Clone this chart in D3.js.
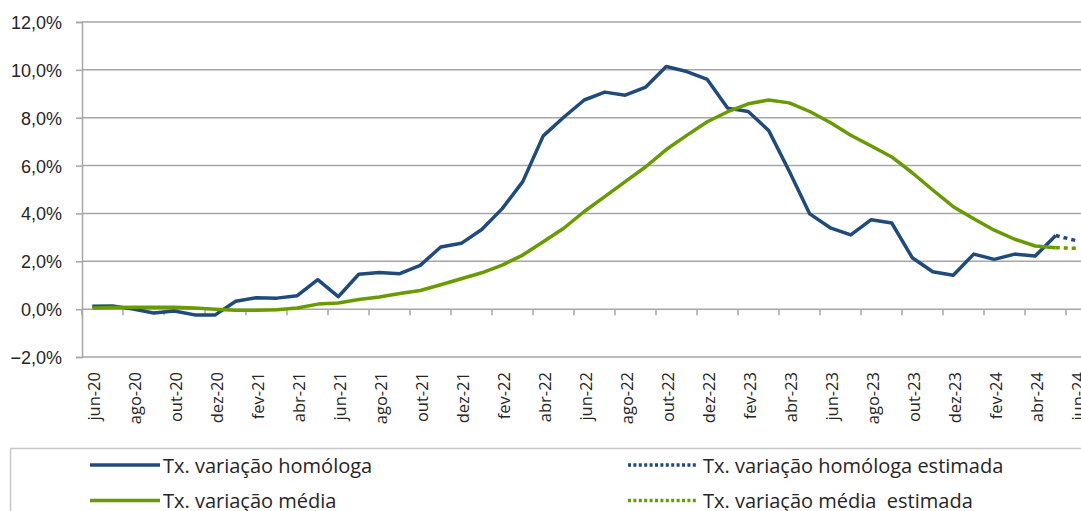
<!DOCTYPE html>
<html>
<head>
<meta charset="utf-8">
<script src="https://cdn.jsdelivr.net/npm/d3@7"></script>
<style>
  body { margin: 0; background: #fff; }
  svg { display: block; font-family: "Open Sans", sans-serif; }
  .grid line { stroke: #a6a6a6; stroke-width: 1.5; }
  .axis text { fill: #262626; }
</style>
</head>
<body>
<div id="chart"></div>
<script>
const monthNames = ['jan', 'fev', 'mar', 'abr', 'mai', 'jun', 'jul', 'ago', 'set', 'out', 'nov', 'dez']
const months = []
for (let y = 20; y <= 24; y++) {
  monthNames.forEach((m, i) => {
    if ((y === 20 && i < 5) || (y === 24 && i > 5)) return
    months.push(`${m}-${y}`)
  })
}

// Tx. variação homóloga (%), jun-20 .. mai-24
const homologa = [0.12, 0.13, 0.0, -0.16, -0.08, -0.24, -0.24, 0.33, 0.48, 0.46,
  0.56, 1.23, 0.52, 1.46, 1.53, 1.48, 1.83, 2.6, 2.75, 3.33,
  4.2, 5.33, 7.24, 8.02, 8.74, 9.07, 8.94, 9.28, 10.14, 9.93,
  9.6, 8.4, 8.26, 7.46, 5.76, 3.98, 3.4, 3.1, 3.74, 3.6,
  2.15, 1.56, 1.42, 2.3, 2.08, 2.3, 2.22, 3.08]
// estimated: mai-24 .. jun-24
const homologaEst = [3.08, 2.86]

// Tx. variação média (%)
const media = [0.05, 0.07, 0.08, 0.08, 0.08, 0.05, 0.0, -0.05, -0.05, -0.03,
  0.05, 0.21, 0.26, 0.4, 0.51, 0.65, 0.78, 1.02, 1.27, 1.52,
  1.84, 2.26, 2.82, 3.38, 4.08, 4.7, 5.33, 5.95, 6.67, 7.26,
  7.83, 8.25, 8.58, 8.74, 8.62, 8.26, 7.8, 7.27, 6.82, 6.36,
  5.7, 4.98, 4.28, 3.78, 3.3, 2.92, 2.64, 2.57]
const mediaEst = [2.57, 2.54]

const yTicks = [-2, 0, 2, 4, 6, 8, 10, 12]

const legendItems = [
  { label: 'Tx. variação homóloga', color: '#1f4b7c', dotted: false },
  { label: 'Tx. variação homóloga estimada', color: '#1f4b7c', dotted: true },
  { label: 'Tx. variação média', color: '#679b00', dotted: false },
  { label: 'Tx. variação média\u00a0 estimada', color: '#679b00', dotted: true }
]

const width = 1081, height = 511
const margin = { top: 22, left: 82 }
const bandW = 20.5
const plotBottom = 357

const svg = d3.select('#chart').append('svg')
  .attr('width', width).attr('height', height)

const x = d3.scaleBand().domain(months)
  .range([margin.left, margin.left + months.length * bandW])
const y = d3.scaleLinear().domain([-2, 12]).range([plotBottom, margin.top])
const cx = d => x(d) + x.bandwidth() / 2

// gridlines
svg.append('g').attr('class', 'grid')
  .selectAll('line').data(yTicks).join('line')
  .attr('x1', margin.left).attr('x2', width)
  .attr('y1', d => y(d)).attr('y2', d => y(d))

// y axis
const yAxis = svg.append('g').attr('class', 'axis')
  .attr('transform', `translate(${margin.left},0)`)
  .call(d3.axisLeft(y).tickValues(yTicks).tickSize(6).tickPadding(14)
    .tickFormat(d => d3.format('.1f')(d).replace('.', ',') + '%'))
yAxis.select('.domain').attr('stroke', '#a6a6a6').attr('stroke-width', 1.5)
yAxis.selectAll('.tick line').attr('stroke', '#a6a6a6').attr('stroke-width', 1.5)
yAxis.selectAll('text').attr('font-size', 18).attr('dy', '0.36em')

// category ticks on the zero line, every second month
const tickCats = months.filter((d, i) => i % 2 === 0)
svg.append('g').selectAll('line').data(tickCats).join('line')
  .attr('x1', d => x(d)).attr('x2', d => x(d))
  .attr('y1', y(0)).attr('y2', y(0) + 6)
  .attr('stroke', '#a6a6a6').attr('stroke-width', 1.5)

// category labels, rotated
svg.append('g').attr('class', 'axis').selectAll('text').data(tickCats).join('text')
  .attr('transform', d => `translate(${cx(d) + 2},372) rotate(-90)`)
  .attr('text-anchor', 'end')
  .attr('dy', '0.35em')
  .attr('font-size', 16.5)
  .text(d => d)

// lines
const line = d3.line().x(d => cx(d[0])).y(d => y(d[1]))
const n = homologa.length
const series = [
  { data: homologa.map((v, i) => [months[i], v]), color: '#1f4b7c', dotted: false },
  { data: homologaEst.map((v, i) => [months[n - 1 + i], v]), color: '#1f4b7c', dotted: true },
  { data: media.map((v, i) => [months[i], v]), color: '#679b00', dotted: false },
  { data: mediaEst.map((v, i) => [months[n - 1 + i], v]), color: '#679b00', dotted: true }
]
svg.append('g').selectAll('path').data(series).join('path')
  .attr('d', d => line(d.data))
  .attr('fill', 'none')
  .attr('stroke', d => d.color)
  .attr('stroke-width', 3.5)
  .attr('stroke-linejoin', 'round')
  .attr('stroke-dasharray', d => d.dotted ? '4,4' : null)

// legend
svg.append('path')
  .attr('d', `M10.5,${height}V448.5H${width}`)
  .attr('fill', 'none').attr('stroke', '#c8c8c8').attr('stroke-width', 1.5)

const lg = svg.append('g').selectAll('g').data(legendItems).join('g')
  .attr('transform', (d, i) => `translate(${i % 2 ? 628 : 90},${i < 2 ? 465 : 500.5})`)
lg.append('line')
  .attr('x1', 0).attr('x2', d => d.dotted ? 68 : 70)
  .attr('stroke', d => d.color).attr('stroke-width', 3.5)
  .attr('stroke-dasharray', d => d.dotted ? '3,2.4' : null)
lg.append('text')
  .attr('x', d => d.dotted ? 75 : 73).attr('y', 7.5)
  .attr('font-size', 20).attr('fill', '#262626')
  .text(d => d.label)
</script>
</body>
</html>
